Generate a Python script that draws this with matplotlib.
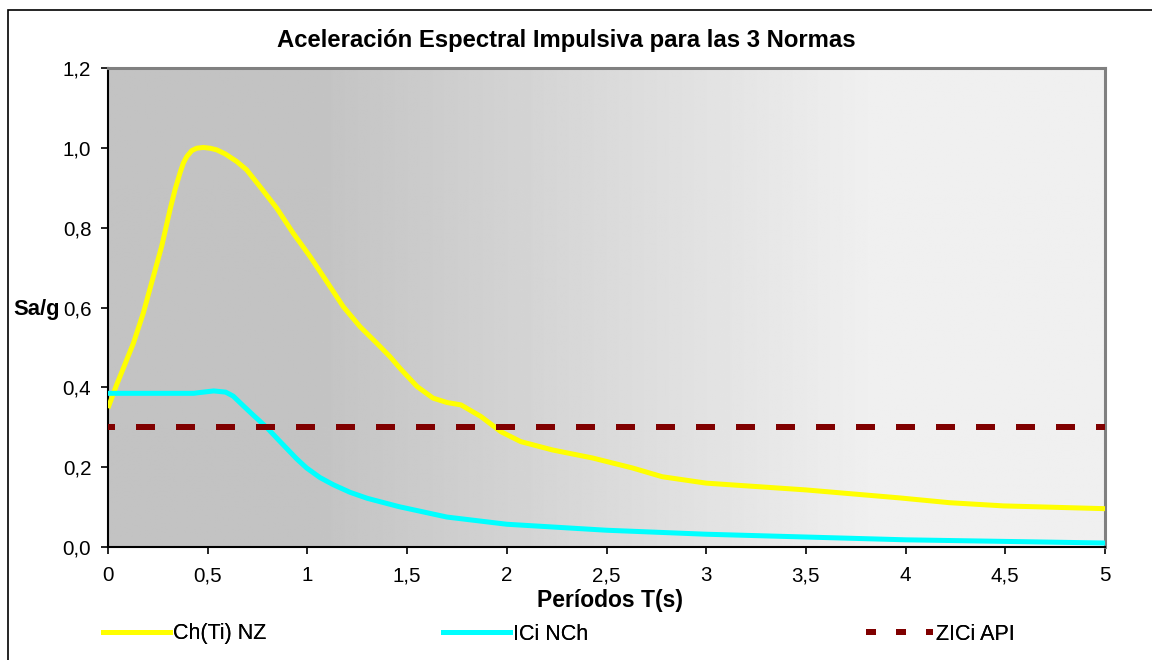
import numpy as np
import matplotlib
matplotlib.use("Agg")
import matplotlib.pyplot as plt
from matplotlib.lines import Line2D
from matplotlib.patches import Rectangle
from matplotlib.ticker import FuncFormatter

plt.rcParams['font.family'] = ['Liberation Sans', 'DejaVu Sans']

# Ch(Ti) NZ spectrum
t_nz = [0.0, 0.043, 0.127, 0.177, 0.227, 0.269, 0.311, 0.336, 0.361, 0.378, 0.395,
        0.42, 0.445, 0.478, 0.512, 0.545, 0.587, 0.645, 0.695, 0.762, 0.846, 0.929,
        1.013, 1.097, 1.18, 1.264, 1.347, 1.414, 1.464, 1.55, 1.63, 1.70, 1.77, 1.87,
        1.97, 2.07, 2.23, 2.43, 2.63, 2.78, 3.0, 3.5, 3.97, 4.22, 4.49, 5.0]
sa_nz = [0.348, 0.406, 0.51, 0.586, 0.677, 0.753, 0.845, 0.895, 0.937, 0.962, 0.978,
         0.993, 0.999, 1.001, 0.999, 0.995, 0.985, 0.966, 0.945, 0.903, 0.849, 0.786,
         0.728, 0.665, 0.602, 0.552, 0.511, 0.477, 0.448, 0.402, 0.373, 0.362, 0.356, 0.327,
         0.289, 0.264, 0.243, 0.223, 0.198, 0.176, 0.16, 0.143, 0.123, 0.111, 0.103, 0.096]

# ICi NCh spectrum
t_nch = [0.0, 0.2, 0.43, 0.461, 0.53, 0.59, 0.628, 0.678, 0.729, 0.795, 0.846, 0.896,
         0.946, 0.996, 1.063, 1.13, 1.214, 1.30, 1.46, 1.7, 2.0, 2.5, 3.0, 3.5, 4.0, 4.5, 5.0]
sa_nch = [0.385, 0.385, 0.385, 0.387, 0.391, 0.388, 0.378, 0.354, 0.330, 0.300, 0.273, 0.247,
          0.221, 0.198, 0.174, 0.156, 0.137, 0.122, 0.101, 0.075, 0.057, 0.042, 0.032, 0.025,
          0.018, 0.014, 0.010]

# ZICi API constant level
t_api = [0.0, 5.0]
sa_api = [0.3, 0.3]

labels = ["Ch(Ti) NZ", "ICi NCh", "ZICi API"]
x_ticks = [0, 0.5, 1, 1.5, 2, 2.5, 3, 3.5, 4, 4.5, 5]
y_ticks = [0.0, 0.2, 0.4, 0.6, 0.8, 1.0, 1.2]

W, H = 1152, 660
fig = plt.figure(figsize=(W / 100, H / 100), dpi=100)
fig.patch.set_facecolor("white")

# outer chart frame (left and top edges visible)
fig.patches.append(Rectangle((8 / W, -0.2), 1.5, 1.2 - 10 / H,
                             transform=fig.transFigure, fill=False,
                             edgecolor="black", linewidth=1.2, zorder=0))

ax = fig.add_axes([108 / W, 1 - 547 / H, (1105 - 108) / W, (547 - 68) / H])
ax.set_xlim(0, 5)
ax.set_ylim(0, 1.2)

# horizontal grey gradient in the plot area
xs = np.linspace(0, 1, 600)
g = np.clip((xs - 0.21) / (0.77 - 0.21), 0, 1)
vals = 0.765 + (0.94 - 0.765) * g
ax.imshow(np.tile(vals, (2, 1)), cmap="gray", vmin=0, vmax=1, aspect="auto",
          extent=[0, 1, 0, 1], transform=ax.transAxes, zorder=0,
          interpolation="bilinear")

px = 0.72  # points per pixel
ax.plot(t_nz, sa_nz, color="#FFFF00", lw=5 * px, solid_joinstyle="round",
        solid_capstyle="butt", zorder=3)
ax.plot(t_nch, sa_nch, color="#00FFFF", lw=5 * px, solid_joinstyle="round",
        solid_capstyle="butt", zorder=3)
ax.plot(t_api, sa_api, color="#800000", lw=6 * px, linestyle=(2.0, (19 / 6, 21 / 6)),
        dash_capstyle="butt", zorder=4)

for s in ["left", "bottom"]:
    ax.spines[s].set_color("black")
    ax.spines[s].set_linewidth(1.5)
for s in ["top", "right"]:
    ax.spines[s].set_color("#808080")
    ax.spines[s].set_linewidth(2.2)

ax.set_xticks(x_ticks)
ax.set_yticks(y_ticks)
ax.xaxis.set_major_formatter(FuncFormatter(lambda v, p: f"{v:g}".replace(".", ",")))
ax.yaxis.set_major_formatter(FuncFormatter(lambda v, p: f"{v:.1f}".replace(".", ",")))
ax.tick_params(axis="both", direction="out", length=5, width=1.2, color="black",
               labelsize=14.8, labelcolor="black")
ax.tick_params(axis="x", pad=9)
ax.tick_params(axis="y", pad=7)

fig.text(566 / W, 1 - 40 / H, "Aceleración Espectral Impulsiva para las 3 Normas",
         ha="center", va="center", fontsize=17.2, fontweight="bold")
fig.text(13 / W, 1 - 309 / H, "Sa/g", ha="left", va="center", fontsize=15.8,
         fontweight="bold")
fig.text(610 / W, 1 - 600 / H, "Períodos T(s)", ha="center", va="center",
         fontsize=16.5, fontweight="bold")

handles = [
    Line2D([], [], color="#FFFF00", lw=5 * px),
    Line2D([], [], color="#00FFFF", lw=5 * px),
    Line2D([], [], color="#800000", lw=6 * px, linestyle=(0, (10 / 6, 20 / 6))),
]
legend_x = [103, 443, 866]
for h, lab, lx in zip(handles, labels, legend_x):
    leg = fig.legend([h], [lab], loc="center left", frameon=False,
                     bbox_to_anchor=(lx / W, 1 - 634 / H), fontsize=15.5,
                     handlelength=3.1, handletextpad=0.15, borderpad=0,
                     borderaxespad=0)
    fig.add_artist(leg)

fig.savefig("out.png", dpi=100, facecolor="white")
